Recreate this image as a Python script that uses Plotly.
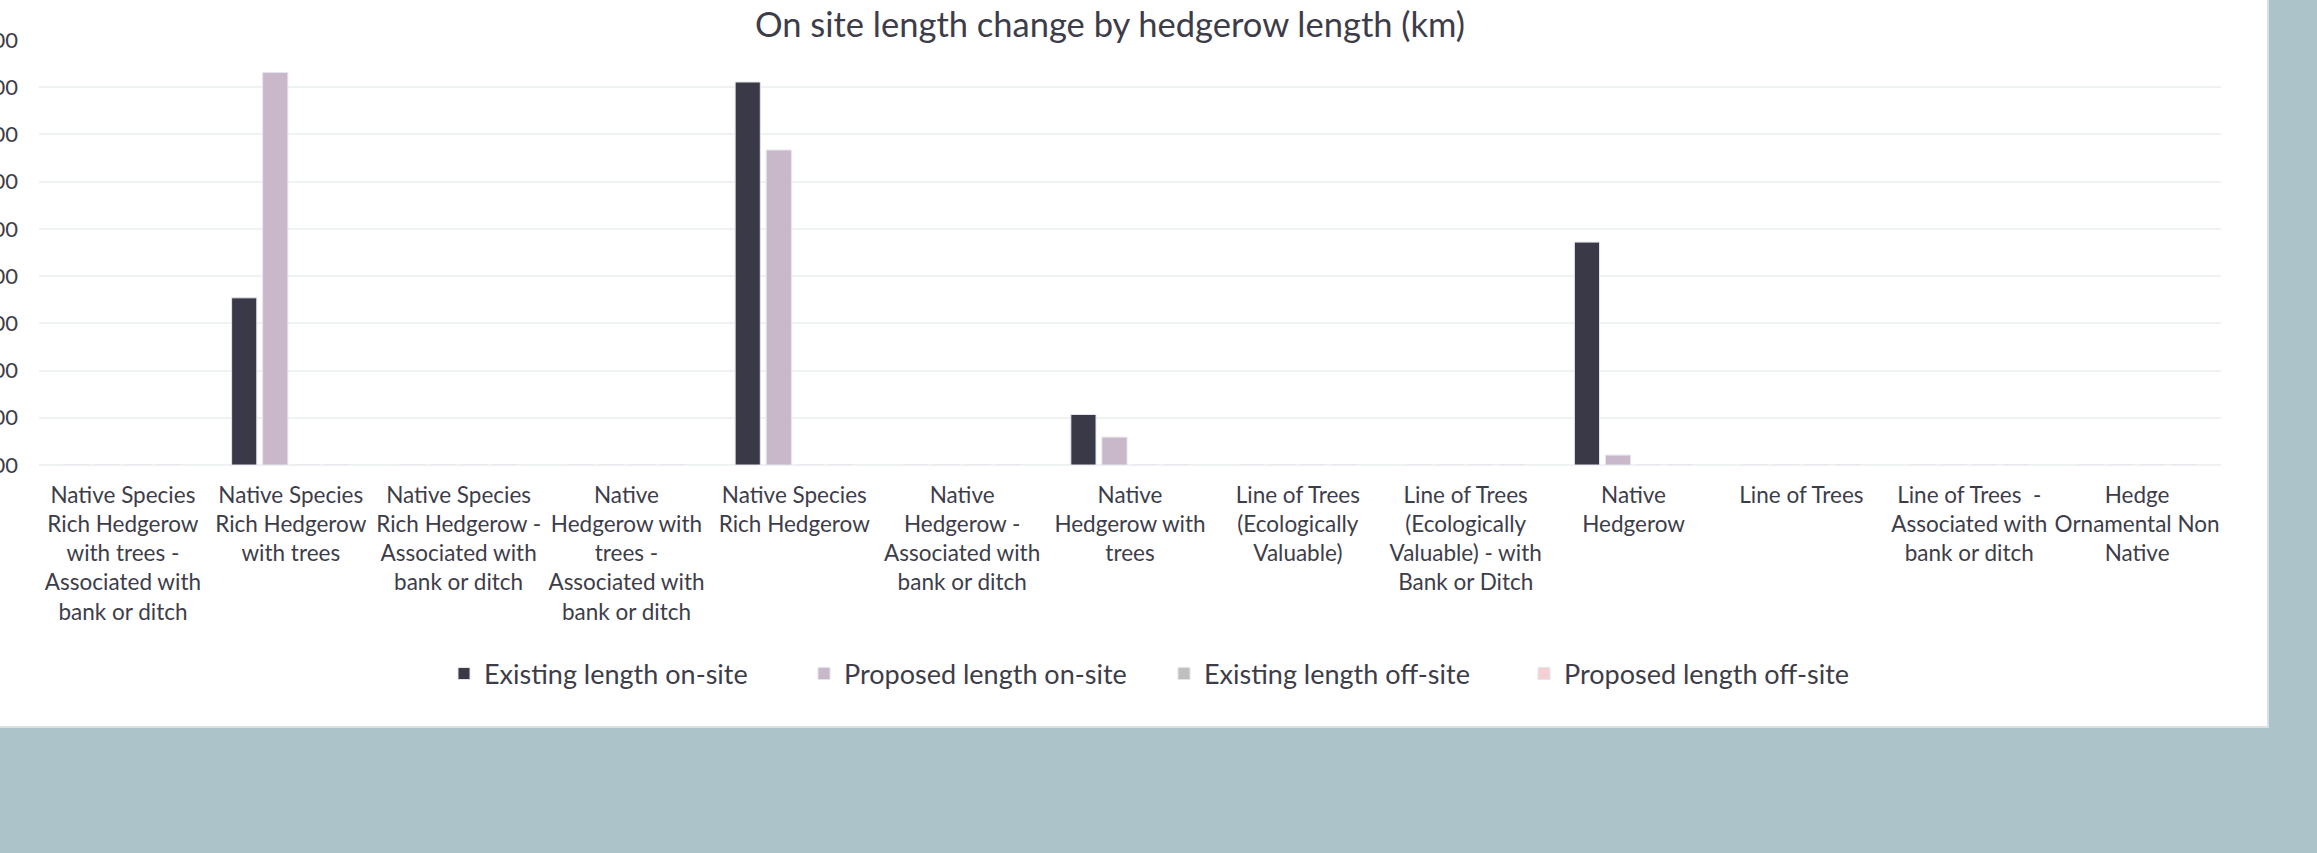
import plotly.graph_objects as go

categories = [
    "Native Species Rich Hedgerow with trees - Associated with bank or ditch",
    "Native Species Rich Hedgerow with trees",
    "Native Species Rich Hedgerow - Associated with bank or ditch",
    "Native Hedgerow with trees - Associated with bank or ditch",
    "Native Species Rich Hedgerow",
    "Native Hedgerow - Associated with bank or ditch",
    "Native Hedgerow with trees",
    "Line of Trees (Ecologically Valuable)",
    "Line of Trees (Ecologically Valuable) - with Bank or Ditch",
    "Native Hedgerow",
    "Line of Trees",
    "Line of Trees  - Associated with bank or ditch",
    "Hedge Ornamental Non Native",
]
tick_labels = [
    "Native Species<br>Rich Hedgerow<br>with trees -<br>Associated with<br>bank or ditch",
    "Native Species<br>Rich Hedgerow<br>with trees",
    "Native Species<br>Rich Hedgerow -<br>Associated with<br>bank or ditch",
    "Native<br>Hedgerow with<br>trees -<br>Associated with<br>bank or ditch",
    "Native Species<br>Rich Hedgerow",
    "Native<br>Hedgerow -<br>Associated with<br>bank or ditch",
    "Native<br>Hedgerow with<br>trees",
    "Line of Trees<br>(Ecologically<br>Valuable)",
    "Line of Trees<br>(Ecologically<br>Valuable) - with<br>Bank or Ditch",
    "Native<br>Hedgerow",
    "Line of Trees",
    "Line of Trees  -<br>Associated with<br>bank or ditch",
    "Hedge<br>Ornamental Non<br>Native",
]
existing_on = [0, 3.54, 0, 0, 8.11, 0, 1.07, 0, 0, 4.72, 0, 0, 0]
proposed_on = [0, 8.31, 0, 0, 6.67, 0, 0.59, 0, 0, 0.21, 0, 0, 0]
existing_off = [0] * 13
proposed_off = [0] * 13
series_names = ["Existing length on-site", "Proposed length on-site",
                "Existing length off-site", "Proposed length off-site"]
series_colors = ["#3A3947", "#C9B8CA", "#BFBFBF", "#F2D0D4"]
y_ticks = [0, 1, 2, 3, 4, 5, 6, 7, 8, 9]

FONT = "Lato"
TEXT = "#3D3D4A"

fig = go.Figure()
for name, vals, col in zip(series_names, [existing_on, proposed_on, existing_off, proposed_off], series_colors):
    fig.add_trace(go.Bar(
        x=categories, y=vals, name=name,
        marker=dict(color=col, line=dict(color="#E6E4EC", width=1)),
    ))

W, H = 2317, 853
L, R, T, B = 39, 96, 40, 388

fig.update_layout(
    width=W, height=H,
    margin=dict(l=L, r=R, t=T, b=B, autoexpand=False),
    paper_bgcolor="#ACC3C9",
    plot_bgcolor="white",
    barmode="group",
    bargap=0.26,
    bargroupgap=0.19,
    font=dict(family=FONT, color=TEXT),
    title=dict(text="On site length change by hedgerow length (km)",
               x=1110 / W, xref="container", xanchor="center",
               y=1 - 25 / H, yref="container", yanchor="middle",
               font=dict(family=FONT, size=34.5, color=TEXT)),
    legend=dict(orientation="h", x=(1164 - L) / 2182, xanchor="center",
                y=(465 - 674) / 425, yanchor="middle",
                font=dict(family=FONT, size=27, color=TEXT),
                bgcolor="rgba(0,0,0,0)", itemwidth=30,
                entrywidth=315, entrywidthmode="pixels",
                traceorder="normal"),
    shapes=[
        dict(type="rect", xref="paper", yref="paper", layer="below",
             x0=-L / 2182 - 0.01, x1=(2268 - L) / 2182,
             y0=(465 - 727) / 425, y1=(465 + 10) / 425,
             fillcolor="white", line=dict(color="#DADFE0", width=2)),
    ],
)
fig.update_xaxes(
    tickmode="array", tickvals=categories, ticktext=tick_labels,
    tickfont=dict(family=FONT, size=22.5, color=TEXT),
    showline=False, ticks="", automargin=False, tickangle=0,
    ticklabelstandoff=14,
)
fig.update_yaxes(
    range=[0, 9], tickmode="array", tickvals=y_ticks, tickformat=".2f",
    showgrid=True, gridcolor="#EEF2F2", gridwidth=2,
    zeroline=True, zerolinecolor="#EEF2F2", zerolinewidth=2,
    tickfont=dict(family=FONT, size=22, color=TEXT),
    automargin=False, ticklabelstandoff=20, showline=False,
)

fig.write_html("out.html")
